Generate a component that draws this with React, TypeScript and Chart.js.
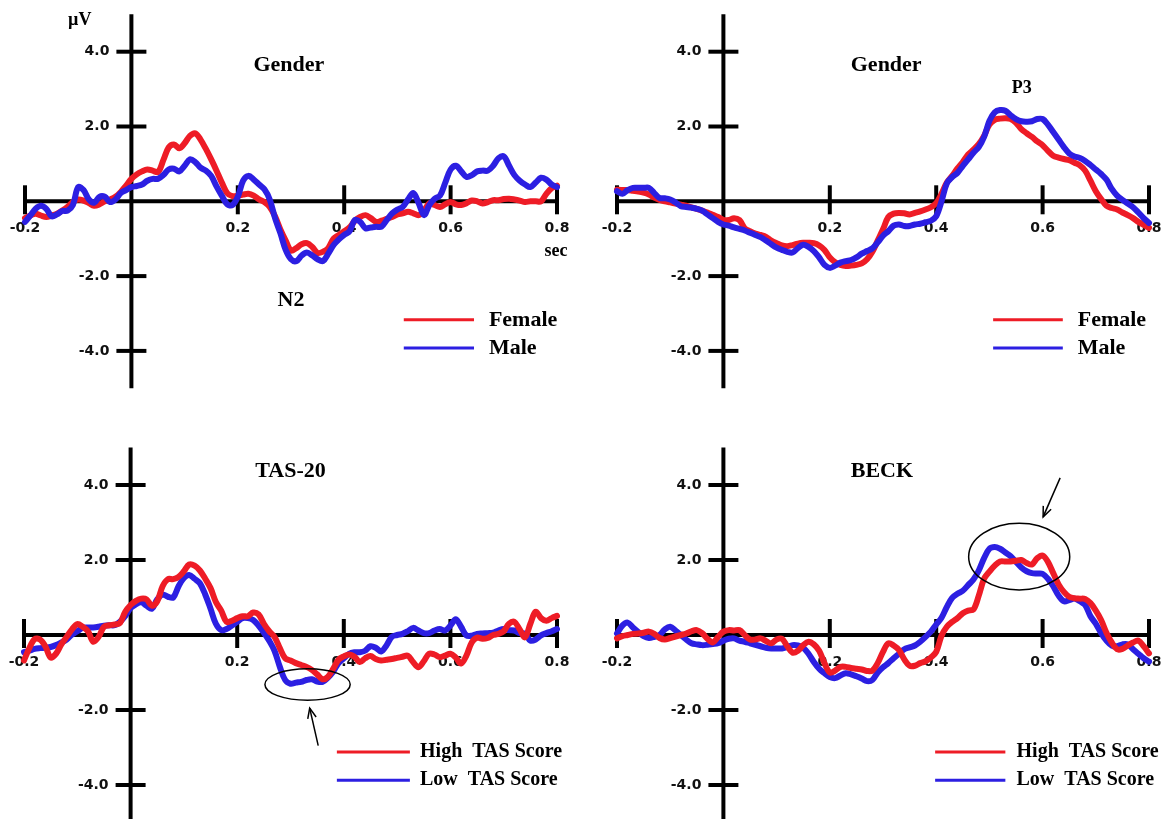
import React, { useEffect, useRef } from 'react';
import { Chart, registerables } from 'chart.js';

Chart.register(...registerables);

// ---------- data ----------
const TIME = [
  -0.2, -0.19, -0.18, -0.17, -0.16, -0.15, -0.14, -0.13, -0.12, -0.11,
  -0.1, -0.09, -0.08, -0.07, -0.06, -0.05, -0.04, -0.03, -0.02, -0.01,
  0, 0.01, 0.02, 0.03, 0.04, 0.05, 0.06, 0.07, 0.08, 0.09,
  0.1, 0.11, 0.12, 0.13, 0.14, 0.15, 0.16, 0.17, 0.18, 0.19,
  0.2, 0.21, 0.22, 0.23, 0.24, 0.25, 0.26, 0.27, 0.28, 0.29,
  0.3, 0.31, 0.32, 0.33, 0.34, 0.35, 0.36, 0.37, 0.38, 0.39,
  0.4, 0.41, 0.42, 0.43, 0.44, 0.45, 0.46, 0.47, 0.48, 0.49,
  0.5, 0.51, 0.52, 0.53, 0.54, 0.55, 0.56, 0.57, 0.58, 0.59,
  0.6, 0.61, 0.62, 0.63, 0.64, 0.65, 0.66, 0.67, 0.68, 0.69,
  0.7, 0.71, 0.72, 0.73, 0.74, 0.75, 0.76, 0.77, 0.78, 0.79,
  0.8,
];

// Panel 1: Gender (N2)
const GENDER_N2_FEMALE = [
  -0.45, -0.38, -0.33, -0.38, -0.42, -0.38, -0.33, -0.25, -0.15, -0.02,
  0.05, 0.02, -0.05, -0.12, -0.08, 0.0, 0.05, 0.12, 0.25, 0.42,
  0.6, 0.72, 0.8, 0.85, 0.82, 0.78, 1.1, 1.44, 1.52, 1.42,
  1.55, 1.75, 1.82, 1.65, 1.4, 1.12, 0.82, 0.5, 0.22, 0.14,
  0.15, 0.18, 0.2, 0.15, 0.05, -0.02, -0.15, -0.4, -0.75, -1.05,
  -1.32, -1.25, -1.15, -1.12, -1.22, -1.38, -1.35, -1.25, -1.0, -0.9,
  -0.8, -0.7, -0.52, -0.42, -0.37, -0.45, -0.55, -0.52, -0.47, -0.42,
  -0.35, -0.32, -0.28, -0.32, -0.37, -0.25, -0.05, -0.1, -0.15, -0.08,
  -0.02, -0.08, -0.1, -0.05, 0.02, 0.0, -0.06, -0.02, 0.03, 0.03,
  0.06, 0.07, 0.05, 0.02, -0.02, 0.0, 0.0, 0.0, 0.2, 0.35,
  0.42,
];
const GENDER_N2_MALE = [
  -0.55, -0.38, -0.2, -0.12, -0.2, -0.4, -0.35, -0.26, -0.25, -0.1,
  0.38, 0.3, 0.05, -0.04, 0.12, 0.12, -0.02, 0.05, 0.22, 0.3,
  0.38, 0.41, 0.45, 0.55, 0.6, 0.6, 0.7, 0.85, 0.87, 0.8,
  0.95, 1.12, 1.05, 0.9, 0.82, 0.68, 0.4, 0.15, -0.08, -0.1,
  0.12, 0.55, 0.68, 0.58, 0.45, 0.32, 0.05, -0.45, -0.85, -1.3,
  -1.55, -1.6, -1.45, -1.37, -1.45, -1.55, -1.6, -1.4, -1.17, -1.02,
  -0.9, -0.8, -0.5, -0.55, -0.72, -0.7, -0.68, -0.68, -0.5, -0.32,
  -0.22, -0.15, 0.05, 0.22, -0.05, -0.37, -0.1, 0.07, 0.15, 0.5,
  0.85, 0.95, 0.8, 0.65, 0.7, 0.8, 0.82, 0.82, 0.95, 1.15,
  1.2, 0.95, 0.7, 0.55, 0.45, 0.38, 0.5, 0.63, 0.58, 0.45,
  0.38,
];

// Panel 2: Gender (P3)
const GENDER_P3_FEMALE = [
  0.31, 0.3, 0.3, 0.28, 0.26, 0.23, 0.18, 0.1, 0.04, 0.0,
  -0.03, -0.06, -0.09, -0.12, -0.16, -0.2, -0.25, -0.3, -0.36, -0.42,
  -0.5, -0.5, -0.45, -0.5, -0.72, -0.8, -0.86, -0.9, -0.95, -1.05,
  -1.12, -1.18, -1.2, -1.17, -1.13, -1.11, -1.11, -1.12, -1.18, -1.3,
  -1.5, -1.63, -1.7, -1.73, -1.72, -1.7, -1.66, -1.55, -1.35, -1.05,
  -0.75, -0.42, -0.33, -0.31, -0.32, -0.35, -0.31, -0.27, -0.22, -0.16,
  -0.05, 0.2, 0.5, 0.68, 0.88, 1.05, 1.25, 1.38, 1.53, 1.75,
  2.05, 2.18, 2.21, 2.22, 2.2, 2.1, 1.93, 1.82, 1.72, 1.6,
  1.5, 1.35, 1.22, 1.17, 1.13, 1.1, 1.03, 0.96, 0.82, 0.55,
  0.27, 0.06, -0.12, -0.18, -0.22, -0.3, -0.37, -0.45, -0.55, -0.63,
  -0.71,
];
const GENDER_P3_MALE = [
  0.27, 0.2, 0.3, 0.36, 0.36, 0.36, 0.36, 0.22, 0.09, 0.08,
  0.05, -0.03, -0.13, -0.15, -0.17, -0.2, -0.25, -0.35, -0.45, -0.55,
  -0.62, -0.65, -0.7, -0.74, -0.78, -0.84, -0.9, -0.96, -1.05, -1.15,
  -1.24, -1.3, -1.35, -1.37, -1.25, -1.16, -1.22, -1.33, -1.5, -1.7,
  -1.78, -1.72, -1.64, -1.6, -1.57, -1.5, -1.4, -1.33, -1.26, -1.1,
  -0.92, -0.8, -0.65, -0.62, -0.66, -0.66, -0.62, -0.6, -0.56, -0.52,
  -0.4, 0.0, 0.48, 0.65, 0.76, 0.95, 1.12, 1.3, 1.45, 1.72,
  2.15, 2.38, 2.44, 2.42, 2.3, 2.2, 2.14, 2.13, 2.14, 2.2,
  2.2, 2.05, 1.85, 1.65, 1.45, 1.28, 1.2, 1.16, 1.08, 0.97,
  0.85, 0.73, 0.58, 0.33, 0.15, 0.04, -0.06, -0.16, -0.3, -0.45,
  -0.58,
];

// Panel 3: TAS-20
const TAS_HIGH = [
  -0.68, -0.35, -0.11, -0.12, -0.3, -0.6, -0.5, -0.25, -0.05, 0.15,
  0.29, 0.22, 0.1, -0.18, -0.05, 0.22, 0.26, 0.28, 0.32, 0.62,
  0.8, 0.91, 0.97, 0.95, 0.78, 0.9, 1.3, 1.49, 1.49, 1.55,
  1.7, 1.88, 1.85, 1.72, 1.5, 1.25, 0.88, 0.65, 0.35, 0.38,
  0.45, 0.5, 0.5, 0.6, 0.55, 0.3, 0.1, -0.05, -0.35, -0.62,
  -0.68, -0.75, -0.8, -0.85, -0.93, -1.05, -1.18, -1.12, -0.9, -0.66,
  -0.57, -0.52, -0.58, -0.72, -0.62, -0.56, -0.64, -0.68, -0.66, -0.64,
  -0.61, -0.58, -0.55, -0.72, -0.86, -0.7, -0.5, -0.52, -0.59, -0.55,
  -0.5, -0.6, -0.76, -0.55, -0.2, -0.07, -0.1, -0.08, 0.0, 0.03,
  0.1, 0.3, 0.35, 0.15, -0.06, 0.3, 0.62, 0.45, 0.38, 0.45,
  0.51,
];
const TAS_LOW = [
  -0.46, -0.42, -0.37, -0.35, -0.34, -0.32, -0.27, -0.2, -0.12, 0.01,
  0.1, 0.19, 0.2, 0.2, 0.22, 0.25, 0.26, 0.26, 0.35, 0.51,
  0.72, 0.82, 0.87, 0.78, 0.7, 0.95, 1.08, 1.02, 1.0, 1.3,
  1.52, 1.6, 1.5, 1.38, 1.08, 0.7, 0.3, 0.13, 0.16, 0.25,
  0.35, 0.45, 0.45, 0.4, 0.25, 0.06, -0.15, -0.42, -0.85, -1.2,
  -1.3, -1.27, -1.25, -1.2, -1.18, -1.24, -1.25, -1.14, -0.98, -0.75,
  -0.62, -0.5, -0.46, -0.46, -0.42, -0.3, -0.34, -0.44, -0.28, -0.05,
  0.0, 0.03, 0.1, 0.19, 0.12, 0.05, 0.05, 0.12, 0.16, 0.12,
  0.25, 0.42, 0.22, -0.01, -0.02, 0.03, 0.04, 0.05, 0.06, 0.12,
  0.16, 0.13, 0.12, 0.05, 0.03, -0.15, -0.12, -0.01, 0.05, 0.1,
  0.16,
];

// Panel 4: BECK
const BECK_HIGH = [
  -0.09, -0.03, 0.0, 0.03, 0.04, 0.06, 0.09, 0.03, -0.08, -0.12,
  -0.08, -0.04, 0.0, 0.04, 0.1, 0.13, 0.05, -0.1, -0.2, -0.05,
  0.09, 0.13, 0.12, 0.13, 0.0, -0.12, -0.12, -0.09, -0.16, -0.22,
  -0.12, -0.1, -0.3, -0.47, -0.42, -0.27, -0.18, -0.25, -0.42, -0.75,
  -1.0, -0.95, -0.85, -0.85, -0.88, -0.9, -0.92, -0.96, -0.95, -0.75,
  -0.45, -0.22, -0.28, -0.4, -0.65, -0.82, -0.82, -0.75, -0.7, -0.6,
  -0.45, -0.02, 0.22, 0.35, 0.45, 0.58, 0.65, 0.68, 1.05, 1.5,
  1.69, 1.85, 1.96, 1.96, 1.96, 1.98, 2.0, 1.92, 1.88, 2.05,
  2.12, 1.95, 1.65, 1.35, 1.15, 1.02, 0.98, 0.97, 0.96, 0.85,
  0.65, 0.4, 0.06, -0.2, -0.38, -0.37, -0.28, -0.2, -0.15, -0.3,
  -0.49,
];
const BECK_LOW = [
  0.04, 0.25, 0.33, 0.2, 0.08, -0.03, -0.08, -0.05, 0.0, 0.15,
  0.22, 0.12, 0.0, -0.12, -0.22, -0.25, -0.27, -0.26, -0.24, -0.22,
  -0.15, -0.1, -0.09, -0.15, -0.18, -0.22, -0.26, -0.3, -0.34, -0.36,
  -0.36, -0.36, -0.32, -0.27, -0.28, -0.34, -0.5, -0.72, -0.9, -1.02,
  -1.12, -1.15, -1.08, -1.02, -1.05, -1.1, -1.16, -1.23, -1.2, -1.0,
  -0.86, -0.75, -0.62, -0.5, -0.38, -0.33, -0.28, -0.18, -0.05, 0.09,
  0.28, 0.46, 0.75, 0.99, 1.1, 1.18, 1.33, 1.48, 1.72, 2.05,
  2.3, 2.35, 2.3, 2.2, 2.1, 1.95, 1.8, 1.7, 1.65, 1.64,
  1.63, 1.5, 1.3, 1.05, 0.9, 0.93, 0.97, 0.9, 0.8, 0.5,
  0.3, 0.05, -0.15, -0.28, -0.3, -0.25, -0.25, -0.38, -0.5, -0.62,
  -0.71,
];

const X_TICKS = [-0.2, 0.2, 0.4, 0.6, 0.8];
const X_TICK_LABELS = ['-0.2', '0.2', '0.4', '0.6', '0.8'];
const Y_TICKS = [4, 2, -2, -4];
const Y_TICK_LABELS = ['4.0', '2.0', '-2.0', '-4.0'];

const GENDER_LABELS = ['Female', 'Male'];
const TAS_LABELS = ['High  TAS Score', 'Low  TAS Score'];

// ---------- styles ----------
const RED = '#ee1c26';
const BLUE = '#2c1fe2';
const SERIF = '"Liberation Serif", "Times New Roman", serif';
const SANS = '"DejaVu Sans", Verdana, sans-serif';

type TextItem = { text: string; t: number; v: number; font: string; align?: CanvasTextAlign };
type Ellipse = { t: number; v: number; rx: number; ry: number };
type Arrow = { from: [number, number]; to: [number, number] };

type PanelDef = {
  key: string;
  left: number;
  top: number;
  width: number;
  height: number;
  padding: { left: number; right: number; top: number; bottom: number };
  red: number[];
  blue: number[];
  redOnTop: boolean;
  labels: string[];
  legend: { t0: number; t1: number; tText: number; v1: number; v2: number; font: string };
  texts: TextItem[];
  ellipse?: Ellipse;
  arrow?: Arrow;
};

const PANELS: PanelDef[] = [
  {
    key: 'tl', left: 0, top: 0, width: 583, height: 410,
    padding: { left: 25, right: 26, top: 14.3, bottom: 21.7 },
    red: GENDER_N2_FEMALE, blue: GENDER_N2_MALE, redOnTop: false,
    labels: GENDER_LABELS,
    legend: { t0: 0.512, t1: 0.644, tText: 0.672, v1: -3.17, v2: -3.92, font: `bold 22px ${SERIF}` },
    texts: [
      { text: 'Gender', t: 0.296, v: 3.64, font: `bold 22px ${SERIF}` },
      { text: 'N2', t: 0.30, v: -2.64, font: `bold 22px ${SERIF}` },
      { text: 'µV', t: -0.097, v: 4.85, font: `bold 18px ${SERIF}` },
      { text: 'sec', t: 0.798, v: -1.33, font: `bold 18px ${SERIF}` },
    ],
  },
  {
    key: 'tr', left: 583, top: 0, width: 583, height: 410,
    padding: { left: 34, right: 17, top: 14.3, bottom: 21.7 },
    red: GENDER_P3_FEMALE, blue: GENDER_P3_MALE, redOnTop: false,
    labels: GENDER_LABELS,
    legend: { t0: 0.507, t1: 0.638, tText: 0.666, v1: -3.17, v2: -3.92, font: `bold 22px ${SERIF}` },
    texts: [
      { text: 'Gender', t: 0.306, v: 3.64, font: `bold 22px ${SERIF}` },
      { text: 'P3', t: 0.561, v: 3.03, font: `bold 18px ${SERIF}` },
    ],
  },
  {
    key: 'bl', left: 0, top: 410, width: 583, height: 430,
    padding: { left: 24, right: 26, top: 37.5, bottom: 17.5 },
    red: TAS_HIGH, blue: TAS_LOW, redOnTop: true,
    labels: TAS_LABELS,
    legend: { t0: 0.387, t1: 0.524, tText: 0.543, v1: -3.12, v2: -3.87, font: `bold 20px ${SERIF}` },
    texts: [{ text: 'TAS-20', t: 0.30, v: 4.37, font: `bold 22px ${SERIF}` }],
    ellipse: { t: 0.332, v: -1.32, rx: 0.08, ry: 0.42 },
    arrow: { from: [0.352, -2.95], to: [0.336, -1.95] },
  },
  {
    key: 'br', left: 583, top: 410, width: 583, height: 430,
    padding: { left: 34, right: 17, top: 37.5, bottom: 17.5 },
    red: BECK_HIGH, blue: BECK_LOW, redOnTop: true,
    labels: TAS_LABELS,
    legend: { t0: 0.398, t1: 0.53, tText: 0.551, v1: -3.12, v2: -3.87, font: `bold 20px ${SERIF}` },
    texts: [{ text: 'BECK', t: 0.298, v: 4.37, font: `bold 22px ${SERIF}` }],
    ellipse: { t: 0.556, v: 2.09, rx: 0.095, ry: 0.89 },
    arrow: { from: [0.633, 4.19], to: [0.601, 3.15] },
  },
];

function makePlugin(p: PanelDef) {
  return {
    id: 'erpDecor_' + p.key,
    beforeDatasetsDraw(chart: any) {
      const { ctx, chartArea } = chart;
      const x = chart.scales.x;
      const y = chart.scales.y;
      const x0 = x.getPixelForValue(0);
      const y0 = y.getPixelForValue(0);
      ctx.save();
      ctx.strokeStyle = '#000';
      ctx.lineWidth = 4;
      ctx.lineCap = 'butt';
      ctx.beginPath();
      ctx.moveTo(x0, chartArea.top);
      ctx.lineTo(x0, chartArea.bottom);
      ctx.stroke();
      ctx.beginPath();
      ctx.moveTo(x.getPixelForValue(-0.2), y0);
      ctx.lineTo(x.getPixelForValue(0.8), y0);
      ctx.stroke();
      X_TICKS.forEach((v) => {
        const px = x.getPixelForValue(v);
        ctx.beginPath();
        ctx.moveTo(px, y0 - 16);
        ctx.lineTo(px, y0 + 13);
        ctx.stroke();
      });
      Y_TICKS.forEach((v) => {
        const py = y.getPixelForValue(v);
        ctx.beginPath();
        ctx.moveTo(x0 - 15, py);
        ctx.lineTo(x0 + 15, py);
        ctx.stroke();
      });
      ctx.fillStyle = '#111';
      ctx.font = `bold 14px ${SANS}`;
      ctx.textBaseline = 'middle';
      ctx.textAlign = 'center';
      X_TICKS.forEach((v, i) => {
        ctx.fillText(X_TICK_LABELS[i], x.getPixelForValue(v), y0 + 27);
      });
      ctx.textAlign = 'right';
      Y_TICKS.forEach((v, i) => {
        ctx.fillText(Y_TICK_LABELS[i], x0 - 22, y.getPixelForValue(v));
      });
      ctx.restore();
    },
    afterDatasetsDraw(chart: any) {
      const { ctx } = chart;
      const x = chart.scales.x;
      const y = chart.scales.y;
      ctx.save();
      ctx.fillStyle = '#000';
      ctx.textBaseline = 'middle';
      p.texts.forEach((it) => {
        ctx.font = it.font;
        ctx.textAlign = it.align || 'center';
        ctx.fillText(it.text, x.getPixelForValue(it.t), y.getPixelForValue(it.v));
      });
      // legend
      const lg = p.legend;
      const rows: [string, string, number][] = [
        [RED, p.labels[0], lg.v1],
        [BLUE, p.labels[1], lg.v2],
      ];
      rows.forEach(([c, label, v]) => {
        const py = y.getPixelForValue(v);
        ctx.strokeStyle = c;
        ctx.lineWidth = 3;
        ctx.beginPath();
        ctx.moveTo(x.getPixelForValue(lg.t0), py);
        ctx.lineTo(x.getPixelForValue(lg.t1), py);
        ctx.stroke();
        ctx.font = lg.font;
        ctx.textAlign = 'left';
        ctx.fillStyle = '#000';
        ctx.fillText(label, x.getPixelForValue(lg.tText), py);
      });
      ctx.strokeStyle = '#000';
      ctx.lineWidth = 1.5;
      if (p.ellipse) {
        const e = p.ellipse;
        const cx = x.getPixelForValue(e.t);
        const cy = y.getPixelForValue(e.v);
        const rx = Math.abs(x.getPixelForValue(e.t + e.rx) - cx);
        const ry = Math.abs(y.getPixelForValue(e.v + e.ry) - cy);
        ctx.beginPath();
        ctx.ellipse(cx, cy, rx, ry, 0, 0, Math.PI * 2);
        ctx.stroke();
      }
      if (p.arrow) {
        const fx = x.getPixelForValue(p.arrow.from[0]);
        const fy = y.getPixelForValue(p.arrow.from[1]);
        const tx = x.getPixelForValue(p.arrow.to[0]);
        const ty = y.getPixelForValue(p.arrow.to[1]);
        ctx.beginPath();
        ctx.moveTo(fx, fy);
        ctx.lineTo(tx, ty);
        ctx.stroke();
        const ang = Math.atan2(ty - fy, tx - fx);
        const len = 11;
        ctx.beginPath();
        ctx.moveTo(tx - len * Math.cos(ang - 0.4), ty - len * Math.sin(ang - 0.4));
        ctx.lineTo(tx, ty);
        ctx.lineTo(tx - len * Math.cos(ang + 0.4), ty - len * Math.sin(ang + 0.4));
        ctx.stroke();
      }
      ctx.restore();
    },
  };
}

function ErpPanel({ p }: { p: PanelDef }) {
  const ref = useRef<HTMLCanvasElement | null>(null);
  useEffect(() => {
    if (!ref.current) return;
    const toPoints = (vals: number[]) => TIME.map((t, i) => ({ x: t, y: vals[i] }));
    const chart = new Chart(ref.current, {
      type: 'line',
      data: {
        datasets: [
          {
            label: p.labels[0],
            data: toPoints(p.red),
            borderColor: RED,
            order: p.redOnTop ? 0 : 1,
            clip: false as any,
          },
          {
            label: p.labels[1],
            data: toPoints(p.blue),
            borderColor: BLUE,
            order: p.redOnTop ? 1 : 0,
            clip: false as any,
          },
        ],
      },
      options: {
        responsive: false,
        maintainAspectRatio: false,
        animation: false,
        devicePixelRatio: 1,
        events: [],
        layout: { padding: p.padding },
        scales: {
          x: { type: 'linear', min: -0.2, max: 0.8, display: false },
          y: { type: 'linear', min: -5, max: 5, display: false },
        },
        elements: {
          point: { radius: 0 },
          line: {
            tension: 0.35,
            borderWidth: 6,
            borderCapStyle: 'round',
            borderJoinStyle: 'round',
            fill: false,
          },
        },
        plugins: {
          legend: { display: false },
          tooltip: { enabled: false },
          title: { display: false },
        },
      },
      plugins: [makePlugin(p)],
    } as any);
    return () => chart.destroy();
  }, [p]);
  return (
    <canvas
      ref={ref}
      width={p.width}
      height={p.height}
      style={{ position: 'absolute', left: p.left, top: p.top, width: p.width, height: p.height }}
    />
  );
}

export default function App() {
  return (
    <div
      style={{
        position: 'fixed',
        left: 0,
        top: 0,
        width: 1166,
        height: 819,
        overflow: 'hidden',
        background: '#fff',
      }}
    >
      {PANELS.map((p) => (
        <ErpPanel key={p.key} p={p} />
      ))}
    </div>
  );
}
